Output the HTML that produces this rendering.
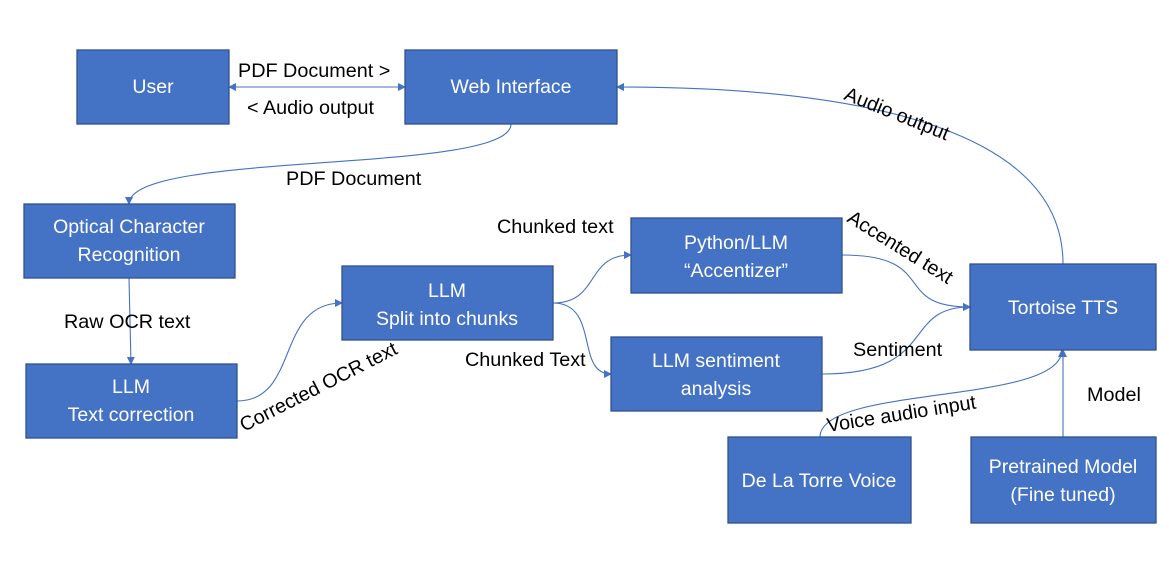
<!DOCTYPE html>
<html><head><meta charset="utf-8"><style>
body{margin:0;background:#fff;}
svg{display:block;font-family:"Liberation Sans",sans-serif;}
.b{fill:#4472C4;stroke:#2F528F;stroke-width:1.3}
.t{fill:#fff;font-size:19.5px;text-anchor:middle}
.l{fill:#000;font-size:19.8px}
.c{fill:none;stroke:#4472C4;stroke-width:1.1}
</style></head><body>
<svg width="1169" height="585" viewBox="0 0 1169 585">
<defs><marker id="a" markerWidth="8" markerHeight="8" refX="7" refY="4" orient="auto" markerUnits="userSpaceOnUse"><path d="M0,0 L8,4 L0,8 z" fill="#4472C4"/></marker>
<marker id="s" markerWidth="8" markerHeight="8" refX="1" refY="4" orient="auto" markerUnits="userSpaceOnUse"><path d="M8,0 L0,4 L8,8 z" fill="#4472C4"/></marker></defs>

<path class="c" d="M229,87 L405,87" marker-start="url(#s)" marker-end="url(#a)"/>
<path class="c" d="M511,124 C511,175 129,150 129,204" marker-end="url(#a)"/>
<path class="c" d="M129,278 L131,364" marker-end="url(#a)"/>
<path class="c" d="M237,401 C300,401 275,303 342,303" marker-end="url(#a)"/>
<path class="c" d="M553,303 C600,303 585,255 631,255" marker-end="url(#a)"/>
<path class="c" d="M553,303 C600,303 575,374 611,374" marker-end="url(#a)"/>
<path class="c" d="M842,255 C940,255 890,307 970,307" marker-end="url(#a)"/>
<path class="c" d="M822,374 C940,374 900,307 970,307" marker-end="url(#a)"/>
<path class="c" d="M820,437 C820,385 1062,405 1062,350" marker-end="url(#a)"/>
<path class="c" d="M1063,437 L1063,350" marker-end="url(#a)"/>
<path class="c" d="M1063,264 C1063,110 800,87 617,87" marker-end="url(#a)"/>

<rect class="b" x="77" y="50" width="152" height="74"/><text class="t" x="153" y="93">User</text>
<rect class="b" x="405" y="50" width="212" height="74"/><text class="t" x="511" y="93">Web Interface</text>
<rect class="b" x="24" y="204" width="211" height="74"/><text class="t" x="129" y="233">Optical Character</text><text class="t" x="129" y="261">Recognition</text>
<rect class="b" x="26" y="364" width="211" height="74"/><text class="t" x="131" y="393">LLM</text><text class="t" x="131" y="421">Text correction</text>
<rect class="b" x="342" y="266" width="211" height="74"/><text class="t" x="447" y="297">LLM</text><text class="t" x="447" y="325">Split into chunks</text>
<rect class="b" x="631" y="218" width="211" height="75"/><text class="t" x="736" y="249">Python/LLM</text><text class="t" x="736" y="277">“Accentizer”</text>
<rect class="b" x="611" y="337" width="211" height="74"/><text class="t" x="716" y="367">LLM sentiment</text><text class="t" x="716" y="395">analysis</text>
<rect class="b" x="970" y="264" width="186" height="86"/><text class="t" x="1063" y="314">Tortoise TTS</text>
<rect class="b" x="728" y="437" width="183" height="86"/><text class="t" x="819" y="487">De La Torre Voice</text>
<rect class="b" x="971" y="437" width="185" height="86"/><text class="t" x="1063" y="473">Pretrained Model</text><text class="t" x="1063" y="501">(Fine tuned)</text>

<text class="l" x="238" y="77">PDF Document &gt;</text>
<text class="l" x="247" y="114">&lt; Audio output</text>
<text class="l" x="286" y="185">PDF Document</text>
<text class="l" x="64" y="328">Raw OCR text</text>
<text class="l" x="497" y="233">Chunked text</text>
<text class="l" x="465" y="366">Chunked Text</text>
<text class="l" x="853" y="356">Sentiment</text>
<text class="l" x="1087" y="401">Model</text>
<text class="l" transform="translate(244,432) rotate(-27)">Corrected OCR text</text>
<text class="l" transform="translate(843,99) rotate(22)">Audio output</text>
<text class="l" transform="translate(846,221) rotate(32)">Accented text</text>
<text class="l" transform="translate(828,432) rotate(-9)">Voice audio input</text>
</svg>
</body></html>
